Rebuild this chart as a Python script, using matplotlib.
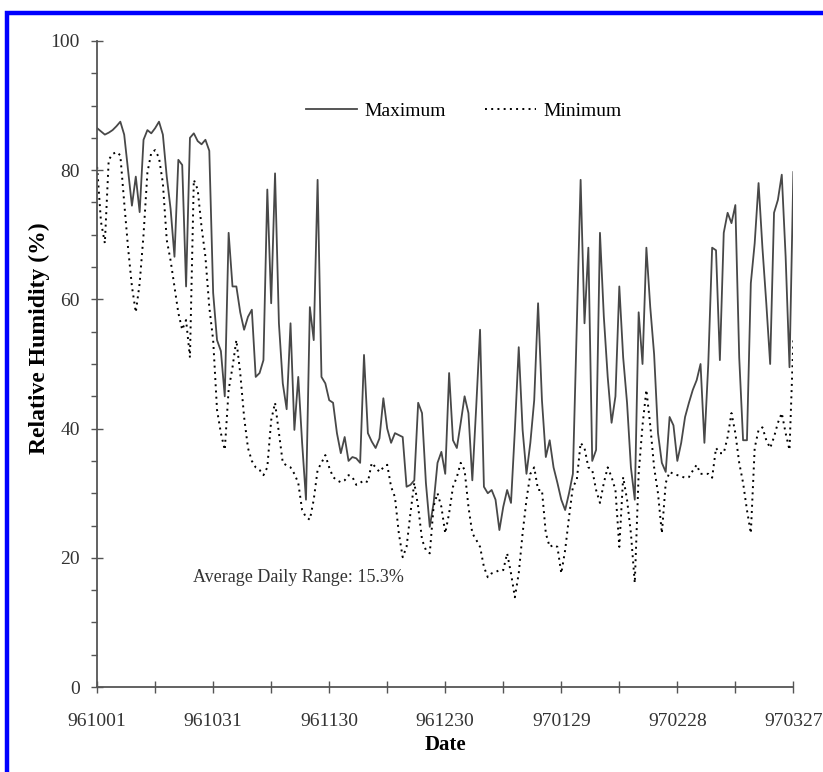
import numpy as np
import matplotlib
matplotlib.use("Agg")
import matplotlib.pyplot as plt
from matplotlib.patches import Rectangle
from matplotlib.ticker import MultipleLocator

plt.rcParams['font.family'] = ['Liberation Serif', 'DejaVu Serif']

# daily maximum / minimum relative humidity (%), 961001 .. 970327
max_rh = [
    86.5, 86, 85.5, 85.8, 86.2, 86.8, 87.5, 85.5, 80, 74.5,
    79, 73.5, 84.7, 86.2, 85.7, 86.5, 87.5, 85.5, 79, 74,
    66.6, 81.6, 80.8, 62, 85, 85.7, 84.5, 84, 84.7, 83,
    61, 53.7, 52, 45, 70.3, 62, 62, 58, 55.3, 57.3,
    58.4, 48, 48.6, 50.6, 77, 59.4, 79.5, 56.3, 47, 43,
    56.3, 39.8, 48, 37.8, 29, 58.8, 53.7, 78.5, 48, 47,
    44.4, 44, 39.3, 36.2, 38.7, 35, 35.6, 35.4, 34.7, 51.4,
    39.3, 38, 37, 38.5, 44.7, 40, 37.8, 39.3, 39, 38.7,
    31, 31.3, 32, 44, 42.4, 31.6, 24.8, 28.5, 34.7, 36.4,
    33, 48.6, 38.2, 37, 40.9, 45, 42.4, 32, 43.3, 55.3,
    31, 30, 30.5, 29, 24.3, 27.9, 30.5, 28.5, 39.8, 52.6,
    39.8, 33, 37.8, 44.4, 59.4, 44.4, 35.6, 38.2, 34, 31.6,
    29, 27.4, 30, 33, 56, 78.5, 56.3, 68, 35, 36.7,
    70.3, 57.3, 48, 40.9, 45, 62, 51, 44, 34, 29,
    58, 50, 68, 58.8, 51.5, 39.3, 34.7, 33.3, 41.8, 40.5,
    35, 37.8, 41.8, 44, 46, 47.5, 50, 37.8, 50, 68,
    67.6, 50.6, 70.3, 73.4, 71.8, 74.6, 51, 38.2, 38.2, 62.5,
    68.7, 78, 68, 59.4, 50, 73.4, 75.4, 79.3, 66.6, 49.5,
    79.7,
]
min_rh = [
    80.5, 72, 68.7, 81.6, 82.5, 82.8, 82.3, 75, 68, 62,
    58, 62.5, 70, 79.6, 82.7, 83.1, 81.9, 78, 69.2, 66,
    62, 57.9, 55.3, 56.8, 51, 78.5, 77, 71.2, 66.6, 58.8,
    53.7, 42.9, 39.3, 36.7, 46, 49.5, 53.7, 48.6, 41.8, 37,
    35, 34, 33.6, 32.8, 34, 41.3, 44, 39.3, 34.7, 34.3,
    34, 33, 31.6, 27.4, 26.3, 25.9, 29, 33.6, 34.7, 35.9,
    34, 32.5, 32, 31.7, 32, 32.8, 32.5, 31.3, 31.6, 32,
    31.7, 34.7, 34, 33.3, 34, 34.4, 31, 29.4, 23.8, 20.1,
    21.7, 26.9, 31.6, 27.9, 22.8, 21.2, 20.7, 28, 30, 27.9,
    23.8, 26.9, 31, 32.5, 34.7, 33.6, 27.9, 23.8, 22.8, 21.7,
    18.6, 17, 17.6, 17.8, 18.1, 18.1, 20.7, 17.6, 13.9, 17.6,
    23.8, 29, 33, 34, 30.5, 30.5, 23.8, 21.7, 22, 21.7,
    17.6, 21.2, 26.3, 31, 32, 37.8, 37, 34, 33.6, 30.5,
    28.5, 31.6, 34, 32.5, 30.5, 21.7, 32.5, 29, 23.8, 16.1,
    33, 40.5, 46, 40.5, 34, 30, 23.8, 31.6, 33.3, 33,
    32.8, 32.6, 32.4, 32.5, 33.5, 34.4, 33, 33, 33, 32.4,
    37, 36.2, 36.2, 38.7, 42.4, 39.3, 34.7, 31.6, 27.4, 23.8,
    37, 39.8, 40.2, 38.2, 37, 38.7, 40.9, 42.4, 39.3, 36.7,
    53.7,
]
date_labels = ['961001', '961031', '961130', '961230', '970129', '970228', '970327']
avg_range = 15.3

days = np.arange(len(max_rh))

fig = plt.figure(figsize=(8.23, 7.72), dpi=100)
ax = fig.add_axes([0.118, 0.110, 0.846, 0.837])

ax.plot(days, max_rh, color='#484848', lw=1.3, label='Maximum')
ax.plot(days, min_rh, color='black', lw=1.4, ls=(0, (1, 2.2)), label='Minimum')

ax.set_xlim(0, 180)
ax.set_ylim(0, 100)
ax.set_xticks(np.arange(0, 181, 30))
ax.set_xticklabels(date_labels)
ax.xaxis.set_minor_locator(MultipleLocator(15))
ax.yaxis.set_major_locator(MultipleLocator(20))
ax.yaxis.set_minor_locator(MultipleLocator(5))

for s in ['top', 'right']:
    ax.spines[s].set_visible(False)
for s in ['left', 'bottom']:
    ax.spines[s].set_color('#555555')
    ax.spines[s].set_linewidth(1.3)

ax.tick_params(axis='both', which='major', direction='inout', length=9, width=1,
               color='#555555', labelsize=14, labelcolor='#333333')
ax.tick_params(axis='x', which='major', pad=14)
ax.tick_params(axis='y', which='major', pad=8)
ax.tick_params(axis='x', which='minor', direction='inout', length=9, width=1, color='#555555')
ax.tick_params(axis='y', which='minor', direction='out', length=4, width=1, color='#555555')

ax.set_xlabel('Date', fontsize=15, fontweight='bold', labelpad=4)
ax.set_ylabel('Relative Humidity (%)', fontsize=17, fontweight='bold')
ax.yaxis.set_label_coords(-0.068, 0.54)

ax.legend(loc='center', bbox_to_anchor=(0.527, 0.892), ncol=2, frameon=False,
          fontsize=14, handlelength=2.6, columnspacing=2.0, handletextpad=0.4)

ax.text(0.137, 0.162, f'Average Daily Range: {avg_range}%', transform=ax.transAxes,
        fontsize=13, color='#333333')

# blue frame around the picture
fig.patches.append(Rectangle((7 / 823, -0.05), 1.1, 1 - 13 / 772 + 0.05,
                             transform=fig.transFigure, fill=False,
                             edgecolor='#0000ff', lw=3.2))

fig.savefig('out.png', dpi=100)
